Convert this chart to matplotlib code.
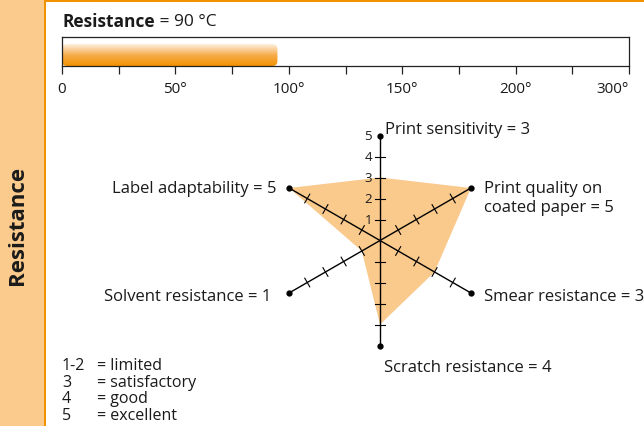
import numpy as np
import matplotlib
matplotlib.use('Agg')
import matplotlib.pyplot as plt
from matplotlib.patches import Rectangle, FancyBboxPatch, Polygon
from matplotlib.colors import LinearSegmentedColormap

plt.rcParams['font.family'] = ['Open Sans', 'DejaVu Sans']

# Temperature bar
resistance_temp = 90
fill_temp = 95          # where the orange fill ends in the picture
bar_labels = ['0', '50°', '100°', '150°', '200°', '300°']
bar_temps = [0, 50, 100, 150, 200, 300]

# Radar chart (counter-clockwise from the right-hand upper spoke)
categories = ['Print quality on\ncoated paper', 'Print sensitivity',
              'Label adaptability', 'Solvent resistance',
              'Scratch resistance', 'Smear resistance']
scores = [5, 3, 5, 1, 4, 3]
angles_deg = [30, 90, 150, 210, 270, 330]

legend_keys = ['1-2', '3', '4', '5']
legend_text = ['= limited', '= satisfactory', '= good', '= excellent']

W, H = 644, 427
orange = '#F39200'
light = '#FBCB8E'
ink = '#1a1a1a'
fs = 11.5

fig = plt.figure(figsize=(W / 100, H / 100), dpi=100)


def fx(x):
    return x / W


def fy(y):
    return 1 - y / H


# side panel and borders
fig.patches.append(Rectangle((0, 0), fx(44), 1, transform=fig.transFigure,
                             facecolor=light, edgecolor='none', zorder=0))
fig.patches.append(Rectangle((fx(44), 0), fx(2), 1, transform=fig.transFigure,
                             facecolor=orange, edgecolor='none', zorder=1))
fig.patches.append(Rectangle((fx(44), fy(2.5)), 1, 2.5 / H, transform=fig.transFigure,
                             facecolor=orange, edgecolor='none', zorder=1))
fig.text(fx(18), fy(225), 'Resistance', rotation=90, ha='center', va='center',
         fontsize=16, fontweight='bold', color=ink)

# bar axes: 10 tick intervals, labels every second tick
bx = fig.add_axes([fx(62), fy(67), fx(567), 29 / H])
bx.set_xlim(0, 10)
bx.set_ylim(0, 1)
for s in bx.spines.values():
    s.set_linewidth(0.9)
    s.set_color('#222222')
bx.set_yticks([])
bx.set_xticks(range(11))
bx.set_xticklabels(['' if i % 2 else bar_labels[i // 2] for i in range(11)])
bx.tick_params(axis='x', length=6, width=0.9, color='#222222', pad=5,
               labelsize=11, labelcolor=ink)
bx.get_xticklabels()[-1].set_horizontalalignment('right')

# title
t = fig.text(fx(62), fy(22), 'Resistance', ha='left', va='center',
             fontsize=12.5, fontweight='bold', color=ink)
bx.annotate(f' = {resistance_temp} °C', xy=(1, 0.5), xycoords=t,
            ha='left', va='center', fontsize=12.5, color=ink,
            annotation_clip=False)

pos_fill = np.interp(fill_temp, bar_temps, range(0, 11, 2))
cmap = LinearSegmentedColormap.from_list(
    'grad', [(0, orange), (0.5, '#F6AC4C'), (1, '#FEF0DE')])
grad = np.linspace(0, 1, 100).reshape(-1, 1)
fill_top = 22 / 29
img = bx.imshow(grad, cmap=cmap, origin='lower', aspect='auto',
                extent=[0, pos_fill, 0, fill_top], zorder=1)
clip = FancyBboxPatch((0, 0), pos_fill, fill_top,
                      boxstyle='round,pad=0,rounding_size=0.09',
                      mutation_aspect=56.7 / 29, transform=bx.transData,
                      facecolor='none', edgecolor='none')
bx.add_patch(clip)
img.set_clip_path(clip)

# radar axes, 21 px per unit
cx, cy, unit = 380, 241.5, 21
rx = fig.add_axes([fx(cx - 6 * unit), fy(cy + 6 * unit), 12 * unit / W, 12 * unit / H])
rx.set_xlim(-6, 6)
rx.set_ylim(-6, 6)
rx.axis('off')

th = np.radians(angles_deg)
vals = np.array(scores)
rx.add_patch(Polygon(np.column_stack([vals * np.cos(th), vals * np.sin(th)]),
                     closed=True, facecolor='#FAC98C', edgecolor='none', zorder=1))

half = 5 / unit
for a in th:
    ex, ey = 5 * np.cos(a), 5 * np.sin(a)
    rx.plot([0, ex], [0, ey], color='black', lw=1.0, zorder=2)
    rx.plot(ex, ey, 'o', color='black', ms=3.5, zorder=3)
    nx, ny = -np.sin(a), np.cos(a)
    for r in range(1, 5):
        px, py = r * np.cos(a), r * np.sin(a)
        rx.plot([px - half * nx, px + half * nx], [py - half * ny, py + half * ny],
                color='black', lw=0.8, zorder=2)

for r in range(1, 6):
    rx.text(-8 / unit, r, str(r), ha='right', va='center', fontsize=9.5,
            color=ink)

offsets = {30: (13, -10), 90: (5, 6), 150: (-13, 0), 210: (-18, -3),
           270: (4, -22), 330: (13, -3)}
for name, sc, ang in zip(categories, scores, angles_deg):
    a = np.radians(ang)
    dx, dy = offsets[ang]
    ha = 'right' if ang in (150, 210) else 'left'
    rx.annotate(f'{name} = {sc}', xy=(5 * np.cos(a), 5 * np.sin(a)),
                xytext=(dx, dy), textcoords='offset pixels', ha=ha, va='center',
                fontsize=12, color=ink, linespacing=1.25,
                annotation_clip=False)

# score legend
for i, (k, txt) in enumerate(zip(legend_keys, legend_text)):
    y = 366 + i * 16.7
    fig.text(fx(62), fy(y), k, ha='left', va='center', fontsize=fs, color=ink)
    fig.text(fx(97), fy(y), txt, ha='left', va='center', fontsize=fs, color=ink)

fig.savefig('out.png', dpi=100)
